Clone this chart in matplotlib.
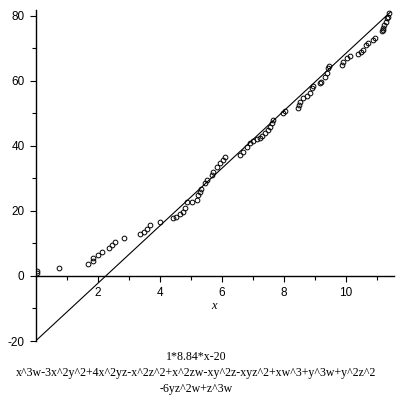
import numpy as np
import matplotlib
matplotlib.use("Agg")
import matplotlib.pyplot as plt
from matplotlib.ticker import MultipleLocator

plt.rcParams['axes.unicode_minus'] = False

# data points
xs = [0.05, 0.05, 0.75, 1.69, 1.84, 1.86, 2.01, 2.13, 2.36, 2.47, 2.57, 2.86,
      3.37, 3.49, 3.58, 3.69, 4.02, 4.44, 4.54, 4.65, 4.74, 4.82, 4.89, 5.04,
      5.19, 5.25, 5.30, 5.35, 5.46, 5.52, 5.68, 5.73, 5.84, 5.95, 6.05, 6.11,
      6.59, 6.70, 6.81, 6.91, 7.02, 7.13, 7.24, 7.29, 7.40, 7.50, 7.56, 7.61,
      7.67, 7.99, 8.04, 8.47, 8.50, 8.52, 8.63, 8.74, 8.85, 8.90, 8.96, 9.17,
      9.22, 9.33, 9.39, 9.44, 9.47, 9.87, 9.92, 10.03, 10.14, 10.40, 10.51,
      10.57, 10.67, 10.73, 10.89, 10.95, 11.16, 11.21, 11.21, 11.24, 11.30,
      11.32, 11.37, 11.40]
ys = [1.5, 0.8, 2.5, 3.7, 4.7, 5.4, 6.5, 7.5, 8.5, 9.5, 10.3, 11.6,
      12.8, 13.6, 14.4, 15.7, 16.6, 17.7, 18.2, 19.1, 19.8, 20.8, 22.6, 22.9,
      23.3, 24.9, 25.9, 26.7, 28.5, 29.5, 31.1, 32.1, 33.6, 34.7, 35.7, 36.7,
      37.2, 38.2, 39.8, 40.8, 41.6, 42.0, 42.5, 43.1, 43.9, 44.9, 45.9, 47.0,
      48.0, 50.1, 50.6, 51.6, 52.6, 53.6, 54.7, 55.4, 56.2, 57.8, 58.5, 59.3,
      59.8, 61.3, 62.4, 63.9, 64.6, 64.9, 65.7, 67.0, 67.6, 68.2, 68.8,
      69.5, 70.9, 71.6, 72.6, 73.3, 75.2, 75.7, 76.2, 77.2, 78.2,
      79.3, 79.8, 80.8]

slope = 8.84
intercept = -20
line_x = [0, 11.45]

caption = ["1*8.84*x-20",
           "x^3w-3x^2y^2+4x^2yz-x^2z^2+x^2zw-xy^2z-xyz^2+xw^3+y^3w+y^2z^2",
           "-6yz^2w+z^3w"]

fig = plt.figure(figsize=(4, 4), dpi=100)
ax = fig.add_axes([0.089, 0.1475, 0.896, 0.8275])

lx = np.array(line_x)
ax.plot(lx, slope * lx + intercept, color='black', lw=0.8)
ax.plot(xs, ys, 'o', ms=3.4, mfc='none', mec='black', mew=0.7)

ax.set_xlim(0, 11.56)
ax.set_ylim(-20, 81.8)

for s in ['top', 'right']:
    ax.spines[s].set_visible(False)
ax.spines['left'].set_position(('data', 0))
ax.spines['bottom'].set_position(('data', 0))
ax.spines['left'].set_linewidth(1.0)
ax.spines['bottom'].set_linewidth(1.0)

ax.xaxis.set_major_locator(MultipleLocator(2))
ax.xaxis.set_minor_locator(MultipleLocator(1))
ax.yaxis.set_major_locator(MultipleLocator(20))
ax.yaxis.set_minor_locator(MultipleLocator(10))
ax.set_xticks([2, 4, 6, 8, 10])
ax.tick_params(which='both', direction='out', width=0.8)
ax.tick_params(which='major', length=4, labelsize=8.5, pad=4)
ax.tick_params(which='minor', length=3)
for lab in ax.get_xticklabels() + ax.get_yticklabels():
    lab.set_fontfamily('Liberation Sans')

fig.text(214 / 400, 1 - 306 / 400, 'x', ha='center', va='center',
         family='Liberation Serif', style='italic', fontsize=9)

for i, line in enumerate(caption):
    fig.text(196 / 400, 1 - (357 + 16 * i) / 400, line, ha='center', va='center',
             family='Liberation Serif', fontsize=8.6)

fig.savefig('out.png', dpi=100)
